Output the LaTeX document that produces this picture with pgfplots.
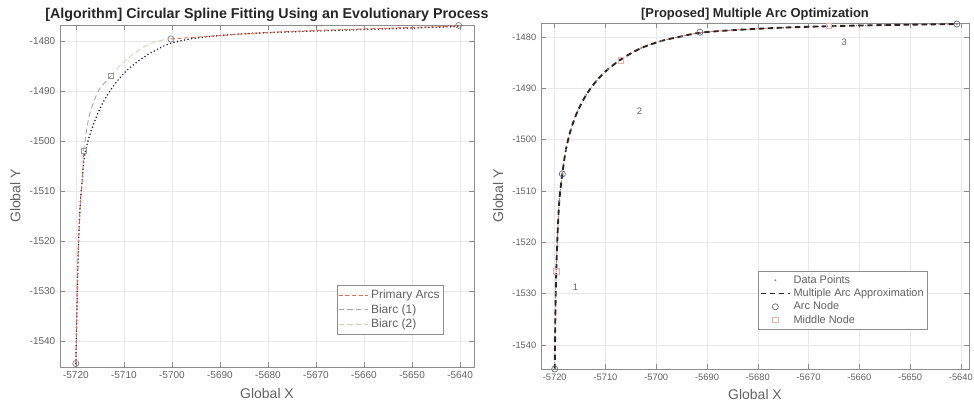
\documentclass[border=0pt]{standalone}
\usepackage{fontspec}
\setmainfont{Liberation Sans}
\usepackage{pgfplots}
\pgfplotsset{compat=1.18}

\definecolor{axgray}{gray}{0.55}
\definecolor{ticktext}{gray}{0.38}
\definecolor{gridgray}{gray}{0.91}
\definecolor{primred}{RGB}{225,105,85}
\definecolor{biarcone}{RGB}{160,160,165}
\definecolor{biarctwo}{RGB}{205,212,180}
\definecolor{nodecol}{RGB}{95,100,125}
\definecolor{midred}{RGB}{235,175,175}

\pgfplotsset{
  mystyle/.style={
    scale only axis,
    grid=major,
    grid style={gridgray, line width=0.4pt},
    axis line style={axgray, line width=0.5pt},
    tick style={axgray, line width=0.4pt},
    major tick length=3.5pt,
    tick label style={font=\fontsize{7.5}{9}\selectfont, text=ticktext},
    /pgf/number format/assume math mode=true,
    /pgf/number format/1000 sep={},
    xtick={-5720,-5710,...,-5640},
    ytick={-1540,-1530,...,-1480},
    label style={font=\fontsize{10.5}{12}\selectfont, text=ticktext},
    title style={font=\bfseries\fontsize{9.7}{11}\selectfont, text=black!85, yshift=-7.3pt},
    xlabel={Global X},
    ylabel={Global Y},
    legend cell align=left,
    legend image code/.code={\draw[mark repeat=2,mark phase=2,#1] plot coordinates {(0pt,0pt) (11pt,0pt) (22pt,0pt)};},
  }
}

\begin{document}
\begin{tikzpicture}
\useasboundingbox (-45pt,-31.5pt) rectangle (685.5pt,275.25pt);

% ---------------- left axis ----------------
\begin{axis}[mystyle,
  at={(0pt,0pt)}, anchor=south west,
  width=310.5pt, height=256.5pt,
  xmin=-5723.3, xmax=-5637.1,
  ymin=-1545.2, ymax=-1476.8,
  title={[Algorithm] Circular Spline Fitting Using an Evolutionary Process},
  title style={font=\bfseries\fontsize{10.7}{12}\selectfont},
  legend style={at={(0.9275,0.24)}, anchor=north east, draw=axgray,
    font=\fontsize{9}{10}\selectfont, text=ticktext, inner xsep=1pt, inner ysep=1.5pt,
    row sep=-1pt},
]
% data points (dotted)
\addplot[black!85, line width=1.3pt, line cap=round, dash pattern=on 0pt off 2.7pt, smooth, forget plot] coordinates {
(-5720.0,-1544.5) (-5719.8,-1535) (-5719.5,-1522) (-5719.1,-1513) (-5718.6,-1507)
(-5718.2,-1503) (-5717.1,-1498.8) (-5715.7,-1495.1) (-5714.3,-1492.2) (-5712.9,-1490.0)
(-5711.2,-1487.8) (-5709.4,-1485.9) (-5706.7,-1483.8) (-5703.9,-1482.1) (-5700.4,-1480.5)
(-5695.6,-1479.5) (-5688.6,-1478.8) (-5681.7,-1478.4) (-5670,-1478.0) (-5660,-1477.7)
(-5650,-1477.4) (-5640.5,-1477.1)};
% primary arcs
\addplot[primred, line width=0.7pt, dash pattern=on 3pt off 2pt, smooth] coordinates {
(-5720.0,-1544.5) (-5719.8,-1535) (-5719.5,-1522) (-5719.1,-1513) (-5718.6,-1507) (-5718.4,-1502)};
\addlegendentry{Primary Arcs}
% biarc 1
\addplot[biarcone, line width=0.6pt, dash pattern=on 4pt off 2.5pt, smooth] coordinates {
(-5718.4,-1502) (-5717.4,-1495.8) (-5716.4,-1492.5) (-5715,-1489.5) (-5712.7,-1487)};
\addlegendentry{Biarc (1)}
% biarc 2
\addplot[biarctwo, line width=0.6pt, dash pattern=on 4pt off 2.5pt, smooth] coordinates {
(-5712.7,-1487) (-5710.5,-1484.6) (-5708,-1482.6) (-5705.3,-1480.9) (-5702.8,-1480.0) (-5700.2,-1479.5)};
\addlegendentry{Biarc (2)}
\addplot[primred, line width=0.7pt, dash pattern=on 3pt off 2pt, smooth, forget plot] coordinates {
(-5700.2,-1479.6) (-5690,-1478.9) (-5680,-1478.3) (-5670,-1477.9) (-5660,-1477.6) (-5650,-1477.3) (-5640.3,-1477.0)};
% nodes
\addplot[only marks, mark=o, mark size=2.3pt, draw=gray, line width=0.5pt, forget plot] coordinates {
(-5720,-1544.5) (-5700.2,-1479.6) (-5640.3,-1476.9)};
\addplot[only marks, mark=square, mark size=2pt, draw=gray!80, line width=0.5pt, forget plot] coordinates {
(-5718.4,-1502) (-5712.7,-1487)};
\end{axis}

% ---------------- right axis ----------------
\begin{axis}[mystyle,
  at={(360.75pt,-1.5pt)}, anchor=south west,
  width=321pt, height=259.5pt,
  xmin=-5722.7, xmax=-5638.4,
  ymin=-1544.7, ymax=-1477.3,
  tick label style={font=\fontsize{7}{8.5}\selectfont},
  title={[Proposed] Multiple Arc Optimization},
  legend style={at={(0.904,0.283)}, anchor=north east, draw=axgray,
    font=\fontsize{8.2}{9.5}\selectfont, text=ticktext, inner xsep=1pt, inner ysep=1pt,
    row sep=-1.5pt},
]
% data points
\addplot[only marks, mark=*, mark size=0.45pt, draw=gray, fill=gray] coordinates {
(-5720,-1544.7) (-5719.8,-1530) (-5719.5,-1520) (-5719.1,-1512) (-5718.5,-1506.7)
(-5717.8,-1502) (-5716.8,-1498) (-5715.5,-1494.5) (-5713.8,-1491.3) (-5711.8,-1488.6)
(-5709.5,-1486.3) (-5706.5,-1484.1) (-5703,-1482.2) (-5699,-1480.8) (-5695,-1479.9)
(-5691.4,-1479.2) (-5685,-1478.7) (-5675,-1478.2) (-5665,-1477.9) (-5655,-1477.7)
(-5640.8,-1477.5)};
\addlegendentry{Data Points}
% red dash-dot underlay
\addplot[primred, line width=0.6pt, dash pattern=on 3pt off 1.5pt on 0.6pt off 1.5pt, smooth, forget plot] coordinates {
(-5720,-1544.7) (-5719.8,-1530) (-5719.5,-1520) (-5719.1,-1512) (-5718.5,-1506.7)
(-5717.8,-1502) (-5716.8,-1498) (-5715.5,-1494.5) (-5713.8,-1491.3) (-5711.8,-1488.6)
(-5709.5,-1486.3) (-5706.5,-1484.1) (-5703,-1482.2) (-5699,-1480.8) (-5695,-1479.9)
(-5691.4,-1479.2) (-5685,-1478.7) (-5675,-1478.2) (-5665,-1477.9) (-5655,-1477.7)
(-5640.8,-1477.5)};
% multiple arc approximation
\addplot[black!85, line width=1.4pt, dash pattern=on 4pt off 2.8pt, smooth] coordinates {
(-5720,-1544.7) (-5719.8,-1530) (-5719.5,-1520) (-5719.1,-1512) (-5718.5,-1506.7)
(-5717.8,-1502) (-5716.8,-1498) (-5715.5,-1494.5) (-5713.8,-1491.3) (-5711.8,-1488.6)
(-5709.5,-1486.3) (-5706.5,-1484.1) (-5703,-1482.2) (-5699,-1480.8) (-5695,-1479.9)
(-5691.4,-1479.2) (-5685,-1478.7) (-5675,-1478.2) (-5665,-1477.9) (-5655,-1477.7)
(-5640.8,-1477.5)};
\addlegendentry{Multiple Arc Approximation}
% arc nodes
\addplot[only marks, mark=o, mark size=2.3pt, draw=nodecol, line width=0.5pt] coordinates {
(-5720,-1544.7) (-5718.5,-1506.7) (-5691.4,-1479.1) (-5640.8,-1477.5)};
\addlegendentry{Arc Node}
% middle nodes
\addplot[only marks, mark=square, mark size=2pt, draw=midred, line width=0.5pt] coordinates {
(-5719.7,-1525.7) (-5707,-1484.6) (-5666,-1477.9)};
\addlegendentry{Middle Node}
\node[font=\fontsize{7}{8}\selectfont, text=ticktext] at (axis cs:-5715.9,-1528.8) {1};
\node[font=\fontsize{7}{8}\selectfont, text=ticktext] at (axis cs:-5703.3,-1494.4) {2};
\node[font=\fontsize{7}{8}\selectfont, text=ticktext] at (axis cs:-5663,-1481.1) {3};
\end{axis}
\end{tikzpicture}
\end{document}
